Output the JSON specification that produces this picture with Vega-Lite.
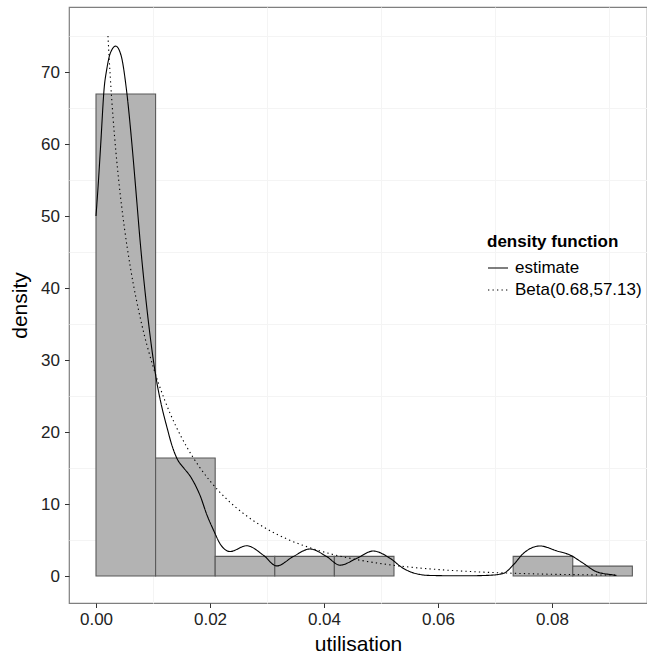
{
  "$schema": "https://vega.github.io/schema/vega-lite/v6.json",
  "width": 578,
  "height": 596,
  "autosize": {"type": "none"},
  "padding": {"left": 69, "top": 7, "right": 0, "bottom": 54},
  "background": "white",
  "config": {
    "font": "Liberation Sans",
    "view": {"stroke": "#7f7f7f", "strokeWidth": 1.2},
    "axis": {"domain": false, "labelFont": "Liberation Sans", "titleFont": "Liberation Sans", "labelColor": "#222", "titleColor": "#000", "titleFontWeight": "normal", "tickColor": "#333", "gridColor": "#e5e5e5", "gridWidth": 1}
  },
  "datasets": {
    "bins": [
      {"start": 0, "end": 0.010456, "density": 66.95},
      {"start": 0.010456, "end": 0.020911, "density": 16.39},
      {"start": 0.020911, "end": 0.031367, "density": 2.73},
      {"start": 0.031367, "end": 0.041822, "density": 2.73},
      {"start": 0.041822, "end": 0.052278, "density": 2.73},
      {"start": 0.073189, "end": 0.083644, "density": 2.73},
      {"start": 0.083644, "end": 0.0941, "density": 1.37}
    ],
    "curves": [
      {"fn": "estimate", "x": 0, "y": 50},
      {"fn": "estimate", "x": 0.0004, "y": 54.5},
      {"fn": "estimate", "x": 0.0008, "y": 59.6},
      {"fn": "estimate", "x": 0.00146, "y": 68.0},
      {"fn": "estimate", "x": 0.00187, "y": 70.3},
      {"fn": "estimate", "x": 0.0025, "y": 72.6},
      {"fn": "estimate", "x": 0.00346, "y": 73.6},
      {"fn": "estimate", "x": 0.0044, "y": 72.3},
      {"fn": "estimate", "x": 0.00538, "y": 67.3},
      {"fn": "estimate", "x": 0.0063, "y": 60},
      {"fn": "estimate", "x": 0.00714, "y": 52.2},
      {"fn": "estimate", "x": 0.00772, "y": 46.7},
      {"fn": "estimate", "x": 0.00877, "y": 38.3},
      {"fn": "estimate", "x": 0.01006, "y": 30},
      {"fn": "estimate", "x": 0.01065, "y": 27},
      {"fn": "estimate", "x": 0.0114, "y": 24.0},
      {"fn": "estimate", "x": 0.0125, "y": 20.5},
      {"fn": "estimate", "x": 0.0133, "y": 18.2},
      {"fn": "estimate", "x": 0.01416, "y": 16.4},
      {"fn": "estimate", "x": 0.0155, "y": 14.9},
      {"fn": "estimate", "x": 0.0165, "y": 13.9},
      {"fn": "estimate", "x": 0.0175, "y": 12.5},
      {"fn": "estimate", "x": 0.01825, "y": 11.2},
      {"fn": "estimate", "x": 0.0195, "y": 8.4},
      {"fn": "estimate", "x": 0.0206, "y": 6.4},
      {"fn": "estimate", "x": 0.02175, "y": 4.5},
      {"fn": "estimate", "x": 0.0235, "y": 3.4},
      {"fn": "estimate", "x": 0.02644, "y": 4.2},
      {"fn": "estimate", "x": 0.02935, "y": 2.9},
      {"fn": "estimate", "x": 0.0317, "y": 1.4},
      {"fn": "estimate", "x": 0.0346, "y": 2.7},
      {"fn": "estimate", "x": 0.03754, "y": 3.75},
      {"fn": "estimate", "x": 0.04047, "y": 2.7},
      {"fn": "estimate", "x": 0.0428, "y": 1.5},
      {"fn": "estimate", "x": 0.04573, "y": 2.45},
      {"fn": "estimate", "x": 0.04865, "y": 3.47},
      {"fn": "estimate", "x": 0.0516, "y": 2.45},
      {"fn": "estimate", "x": 0.0539, "y": 1.07},
      {"fn": "estimate", "x": 0.0551, "y": 0.6},
      {"fn": "estimate", "x": 0.0563, "y": 0.3},
      {"fn": "estimate", "x": 0.0585, "y": 0.08},
      {"fn": "estimate", "x": 0.062, "y": 0.04},
      {"fn": "estimate", "x": 0.066, "y": 0.04},
      {"fn": "estimate", "x": 0.069, "y": 0.1},
      {"fn": "estimate", "x": 0.0715, "y": 0.37},
      {"fn": "estimate", "x": 0.0732, "y": 1.53},
      {"fn": "estimate", "x": 0.075, "y": 3.15},
      {"fn": "estimate", "x": 0.0779, "y": 4.17},
      {"fn": "estimate", "x": 0.0808, "y": 3.5},
      {"fn": "estimate", "x": 0.0832, "y": 2.9},
      {"fn": "estimate", "x": 0.0855, "y": 1.76},
      {"fn": "estimate", "x": 0.0878, "y": 0.6},
      {"fn": "estimate", "x": 0.0908, "y": 0.14},
      {"fn": "estimate", "x": 0.0913, "y": 0.08},
      {"fn": "Beta(0.68,57.13)", "x": 0.0021, "y": 75.0},
      {"fn": "Beta(0.68,57.13)", "x": 0.0025, "y": 69.37},
      {"fn": "Beta(0.68,57.13)", "x": 0.003, "y": 63.6},
      {"fn": "Beta(0.68,57.13)", "x": 0.004, "y": 54.84},
      {"fn": "Beta(0.68,57.13)", "x": 0.005, "y": 48.26},
      {"fn": "Beta(0.68,57.13)", "x": 0.006, "y": 43.02},
      {"fn": "Beta(0.68,57.13)", "x": 0.008, "y": 35.04},
      {"fn": "Beta(0.68,57.13)", "x": 0.010, "y": 29.14},
      {"fn": "Beta(0.68,57.13)", "x": 0.012, "y": 24.53},
      {"fn": "Beta(0.68,57.13)", "x": 0.014, "y": 20.84},
      {"fn": "Beta(0.68,57.13)", "x": 0.016, "y": 17.82},
      {"fn": "Beta(0.68,57.13)", "x": 0.018, "y": 15.31},
      {"fn": "Beta(0.68,57.13)", "x": 0.020, "y": 13.20},
      {"fn": "Beta(0.68,57.13)", "x": 0.023, "y": 10.63},
      {"fn": "Beta(0.68,57.13)", "x": 0.026, "y": 8.60},
      {"fn": "Beta(0.68,57.13)", "x": 0.030, "y": 6.52},
      {"fn": "Beta(0.68,57.13)", "x": 0.034, "y": 4.97},
      {"fn": "Beta(0.68,57.13)", "x": 0.038, "y": 3.80},
      {"fn": "Beta(0.68,57.13)", "x": 0.042, "y": 2.91},
      {"fn": "Beta(0.68,57.13)", "x": 0.046, "y": 2.24},
      {"fn": "Beta(0.68,57.13)", "x": 0.050, "y": 1.72},
      {"fn": "Beta(0.68,57.13)", "x": 0.055, "y": 1.24},
      {"fn": "Beta(0.68,57.13)", "x": 0.060, "y": 0.90},
      {"fn": "Beta(0.68,57.13)", "x": 0.065, "y": 0.65},
      {"fn": "Beta(0.68,57.13)", "x": 0.070, "y": 0.47},
      {"fn": "Beta(0.68,57.13)", "x": 0.075, "y": 0.34},
      {"fn": "Beta(0.68,57.13)", "x": 0.080, "y": 0.24},
      {"fn": "Beta(0.68,57.13)", "x": 0.085, "y": 0.18},
      {"fn": "Beta(0.68,57.13)", "x": 0.0913, "y": 0.12}
    ]
  },
  "layer": [
    {
      "data": {"name": "bins"},
      "mark": {"type": "bar", "fill": "#b3b3b3", "stroke": "#595959", "strokeWidth": 1.1},
      "encoding": {
        "x": {
          "field": "start", "type": "quantitative",
          "scale": {"domain": [-0.004737, 0.09667], "nice": false, "zero": false},
          "axis": {"orient": "top", "values": [0.01, 0.03, 0.05, 0.07, 0.09], "labels": false, "ticks": false, "title": null, "gridColor": "#f4f4f4"}
        },
        "x2": {"field": "end"},
        "y": {
          "field": "density", "type": "quantitative",
          "scale": {"domain": [-3.75, 79.03], "nice": false, "zero": false},
          "axis": {"orient": "right", "values": [5, 15, 25, 35, 45, 55, 65, 75], "labels": false, "ticks": false, "title": null, "gridColor": "#f4f4f4"}
        },
        "y2": {"datum": 0}
      }
    },
    {
      "data": {"name": "curves"},
      "mark": {"type": "line", "color": "#000", "strokeWidth": 1.1, "interpolate": "monotone"},
      "encoding": {
        "x": {
          "field": "x", "type": "quantitative",
          "axis": {"orient": "bottom", "values": [0, 0.02, 0.04, 0.06, 0.08], "format": ".2f", "title": "utilisation", "labelFontSize": 17, "titleFontSize": 21, "tickSize": 4.5, "labelPadding": 4, "titlePadding": 6}
        },
        "y": {
          "field": "y", "type": "quantitative",
          "axis": {"orient": "left", "values": [0, 10, 20, 30, 40, 50, 60, 70], "title": "density", "labelFontSize": 17, "titleFontSize": 21, "tickSize": 4.5, "labelPadding": 5, "titlePadding": 10}
        },
        "detail": {"field": "fn"},
        "strokeDash": {
          "field": "fn", "type": "nominal",
          "scale": {"domain": ["estimate", "Beta(0.68,57.13)"], "range": [[1, 0], [1.3, 3.2]]},
          "legend": {
            "title": "density function", "orient": "none", "legendX": 418, "legendY": 227,
            "titleFontSize": 17, "titleFontWeight": "bold", "titleColor": "#000", "titleFont": "Liberation Sans",
            "labelFontSize": 17, "labelColor": "#000", "labelFont": "Liberation Sans",
            "symbolType": "stroke", "symbolSize": 400, "symbolStrokeWidth": 1.2, "symbolStrokeColor": "#000",
            "rowPadding": 3, "titlePadding": 6, "labelOffset": 6
          }
        }
      }
    }
  ]
}
